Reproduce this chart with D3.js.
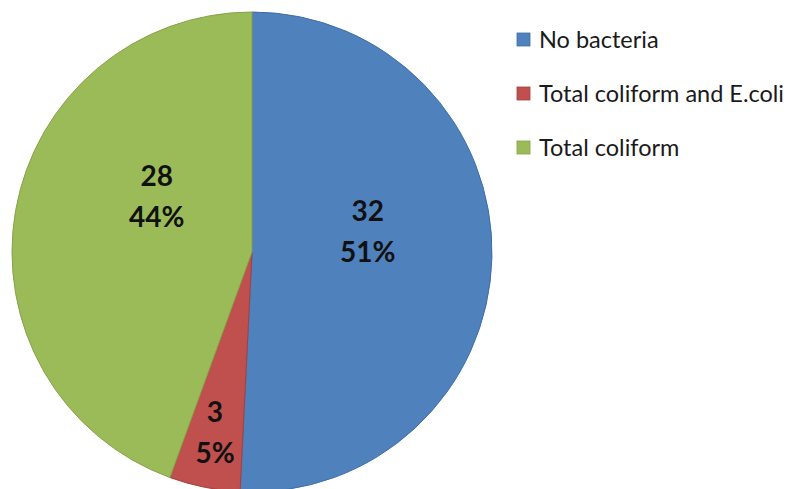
<!DOCTYPE html>
<html>
<head>
<meta charset="utf-8">
<script src="https://cdn.jsdelivr.net/npm/d3@7"></script>
<style>
  html, body { margin: 0; padding: 0; background: #fff; }
  svg { display: block; }
</style>
</head>
<body>
<svg id="chart" width="792" height="489"></svg>
<script>
// Water samples by bacteriological result
const categories = ["No bacteria", "Total coliform and E.coli", "Total coliform"];
const counts = [32, 3, 28];
const colors = ["#4F81BD", "#C0504D", "#9BBB59"];
const strokes = ["#3F6EA6", "#A4403D", "#85A347"];

// Label placement: radius as a fraction of the pie radius, and a small
// angular shift (degrees) from each slice's middle angle.
const labelRadius = [0.49, 0.765, 0.46];
const labelShift = [-11.7, 0.2, 20.3];

const W = 792, H = 489;
const cx = 252, cy = 252, R = 240;

const svg = d3.select("#chart");
const total = d3.sum(counts);

const pie = d3.pie().sort(null).value(d => d)(counts);
const arc = d3.arc().innerRadius(0).outerRadius(R);

const g = svg.append("g").attr("transform", `translate(${cx},${cy})`);

g.selectAll("path.slice")
  .data(pie)
  .join("path")
  .attr("class", "slice")
  .attr("d", arc)
  .attr("fill", (d, i) => colors[i])
  .attr("stroke", (d, i) => strokes[i])
  .attr("stroke-width", 1);

// Value and percent labels inside the slices
const labels = g.selectAll("g.lbl")
  .data(pie)
  .join("g")
  .attr("class", "lbl")
  .attr("transform", (d, i) => {
    const a = (d.startAngle + d.endAngle) / 2 + labelShift[i] * Math.PI / 180;
    const r = R * labelRadius[i];
    return `translate(${r * Math.sin(a)},${-r * Math.cos(a)})`;
  });

labels.append("text")
  .attr("text-anchor", "middle")
  .attr("y", -10)
  .attr("font-family", "Lato, 'Open Sans', sans-serif")
  .attr("font-weight", "bold")
  .attr("font-size", 28)
  .attr("fill", "#111")
  .text(d => d.data);

labels.append("text")
  .attr("text-anchor", "middle")
  .attr("y", 31)
  .attr("font-family", "Lato, 'Open Sans', sans-serif")
  .attr("font-weight", "bold")
  .attr("font-size", 28)
  .attr("fill", "#111")
  .text(d => Math.round(d.data / total * 100) + "%");

// Legend
const legendY = d3.scalePoint().domain(categories).range([40, 148]);
const legend = svg.append("g").attr("transform", "translate(517,0)");
const rows = legend.selectAll("g.row")
  .data(categories)
  .join("g")
  .attr("class", "row")
  .attr("transform", d => `translate(0,${legendY(d)})`);

rows.append("rect")
  .attr("x", 0)
  .attr("y", -7)
  .attr("width", 13)
  .attr("height", 13)
  .attr("fill", (d, i) => colors[i])
  .attr("stroke", (d, i) => strokes[i])
  .attr("stroke-width", 0.8);

rows.append("text")
  .attr("x", 22)
  .attr("y", 7.5)
  .attr("font-family", "Lato, 'Open Sans', sans-serif")
  .attr("font-size", 23.5)
  .attr("fill", "#1a1a1a")
  .text(d => d);
</script>
</body>
</html>
